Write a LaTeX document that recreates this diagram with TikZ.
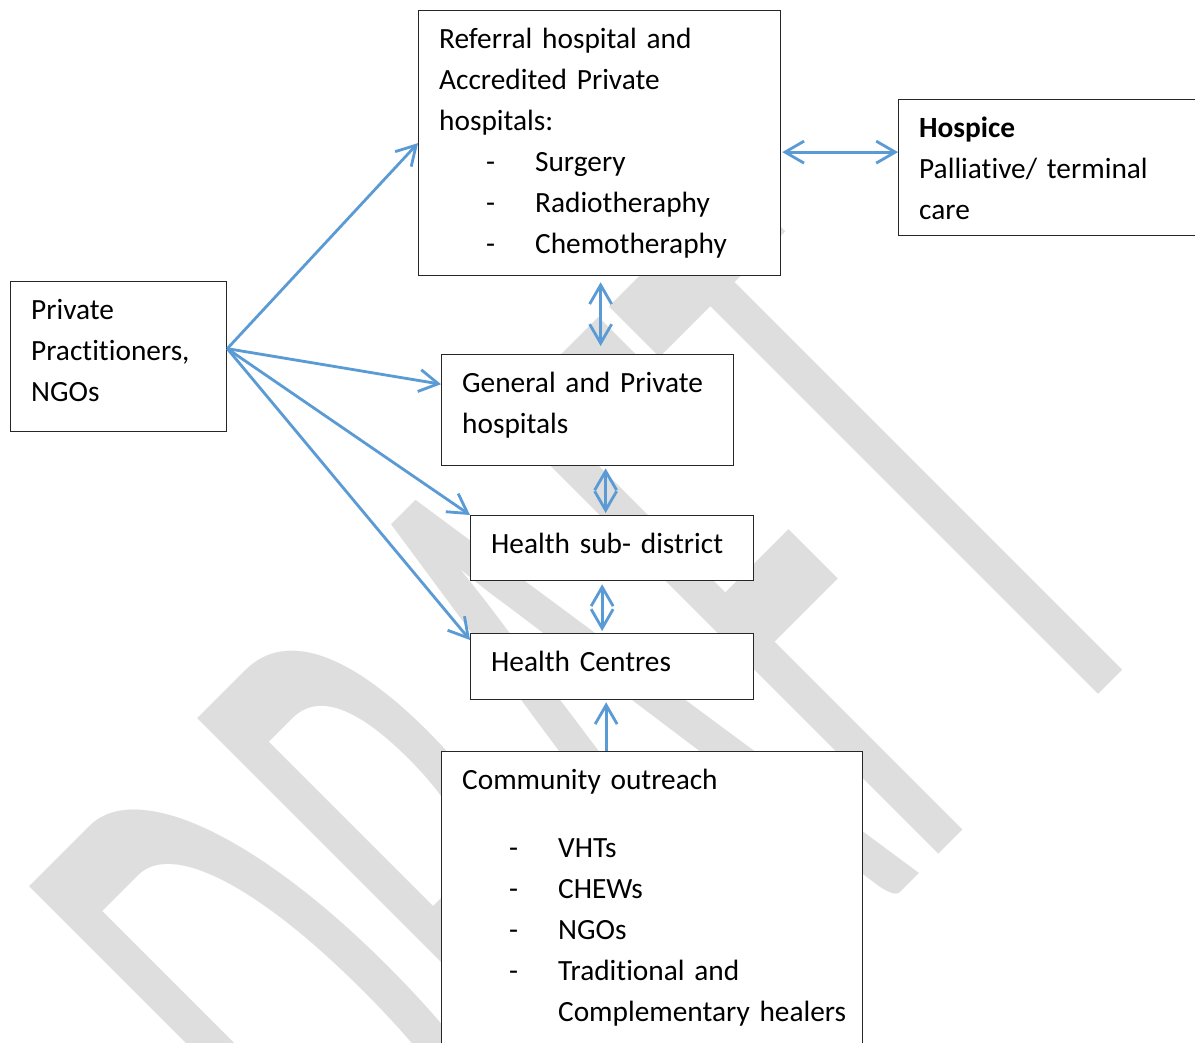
\documentclass[tikz,border=0pt]{standalone}
\usepackage{fontspec}
\setmainfont{Carlito}[Ligatures=CommonOff,WordSpace={0.6}]
\usepackage{graphicx}
\usetikzlibrary{arrows.meta,calc}
\definecolor{linkblue}{RGB}{91,155,213}
\definecolor{wmgray}{RGB}{222,222,222}
\newcommand{\bul}[1]{\hspace*{0.94cm}\makebox[0.98cm][l]{-}#1}
\newcommand{\up}{\rule{0pt}{0.75cm}}
\newcommand{\dn}[1]{\rule[-#1]{0pt}{0pt}}
\begin{document}
\begin{tikzpicture}[x=0.02cm,y=-0.02cm,
        box/.style={draw=black!85,line width=0.75pt,fill=white,anchor=north west,align=left,inner xsep=0.41cm,inner ysep=0pt,font=\fontsize{16.7}{23.4}\selectfont},
        link/.style={draw=linkblue,line width=1.6pt},
        >={Straight Barb[length=3.8mm,width=4.4mm]}]
        \useasboundingbox[fill=white] (0,0) rectangle (1195,1043);
        \node[text=wmgray,rotate=45,anchor=base west,inner sep=0pt,font=\fontsize{550}{550}\selectfont] (draft) at (449,1344) {\scalebox{0.397}[1]{DRAFT}};
        \node[box,text width=6.42cm,minimum height=5.3cm] (ref) at (418,10) {\up Referral hospital and\\Accredited Private\\hospitals:\\\bul{Surgery}\\\bul{Radiotheraphy}\\\bul{Chemotheraphy}\dn{0.43cm}};
        \node[box,text width=5.4cm,minimum height=2.72cm] (hosp) at (898,99) {\up\textbf{Hospice}\\Palliative/ terminal\\care\dn{0.32cm}};
        \node[box,text width=3.5cm,minimum height=3cm] (priv) at (10,281) {\up Private\\Practitioners,\\NGOs\dn{0.6cm}};
        \node[box,text width=5.02cm,minimum height=2.22cm] (gen) at (441,354) {\up General and Private\\hospitals\dn{0.65cm}};
        \node[box,text width=4.84cm,minimum height=1.3cm] (sub) at (470,515) {\up Health sub- district\dn{0.55cm}};
        \node[box,text width=4.84cm,minimum height=1.32cm] (hc) at (470,633) {\up Health Centres\dn{0.57cm}};
        \node[box,text width=7.6cm,minimum height=5.92cm] (com) at (441,751) {\up Community outreach\\[0.54cm]\bul{VHTs}\\\bul{CHEWs}\\\bul{NGOs}\\\bul{Traditional and}\\\hspace*{1.92cm}\mbox{Complementary healers}\dn{0.53cm}};
        \coordinate (pp) at ($(priv.east)+(0,-8)$);
        \draw[link,->] (pp) -- (ref.west);
        \draw[link,->] (pp) -- ($(gen.west)+(0,-26)$);
        \draw[link,->] (pp) -- (sub.north west);
        \draw[link,->] (pp) -- ($(hc.north west)+(0,7)$);
        \draw[link,<->] ($(ref.east)+(1,9)$) -- ($(ref.east -| hosp.west)+(0,9)$);
        \draw[link,<->] ($(ref.south)+(1,6)$) -- ($(ref.south |- gen.north)+(1,-8)$);
        \draw[link,<->] ($(gen.south)+(18,2)$) -- ($(gen.south |- sub.north)+(18,-2)$);
        \draw[link,<->] ($(sub.south)+(-10,3)$) -- ($(sub.south |- hc.north)+(-10,-2)$);
        \draw[link,->] ($(hc.south |- com.north)+(-6,0)$) -- ($(hc.south)+(-6,2)$);
    \end{tikzpicture}
\end{document}
